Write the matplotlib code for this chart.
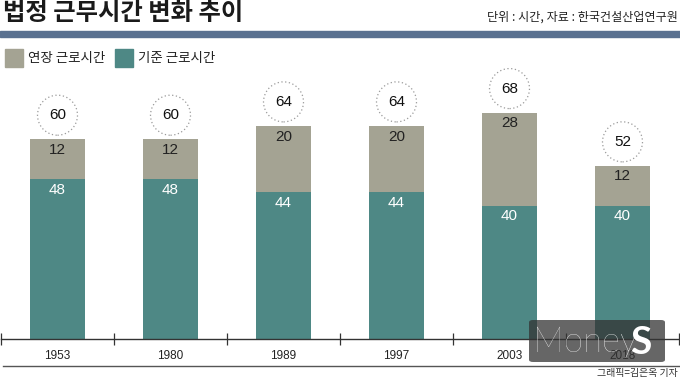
import matplotlib
matplotlib.use("Agg")
import matplotlib.pyplot as plt
from matplotlib.patches import Rectangle, FancyBboxPatch
from matplotlib.lines import Line2D

plt.rcParams['font.family'] = ['Noto Sans CJK KR', 'DejaVu Sans']

years = ["1953", "1980", "1989", "1997", "2003", "2018"]
base_hours = [48, 48, 44, 44, 40, 40]
extended_hours = [12, 12, 20, 20, 28, 12]
totals = [60, 60, 64, 64, 68, 52]

title = "법정 근무시간 변화 추이"
subtitle = "단위 : 시간, 자료 : 한국건설산업연구원"
legend_labels = ["연장 근로시간", "기준 근로시간"]
credit = "그래픽=김은옥 기자"

C_EXT = "#a4a393"
C_BASE = "#4e8885"
C_BAND = "#5a7190"

W, H = 680, 378
fig = plt.figure(figsize=(W / 100, H / 100), dpi=100)

def fx(px):
    return px / W

def fy(py):
    return 1 - py / H

ax = fig.add_axes([fx(1), fy(339), fx(678), (339 - 40) / H])
scale = 3.33
ax.set_ylim(0, 299 / scale)
ax.set_xlim(-0.5, len(years) - 0.5)

xs = list(range(len(years)))
bw = 55 / 113
ax.bar(xs, base_hours, width=bw, color=C_BASE, zorder=2)
ax.bar(xs, extended_hours, bottom=base_hours, width=bw, color=C_EXT, zorder=2)

num_font = ['Liberation Sans', 'DejaVu Sans']
for x, b, e, t in zip(xs, base_hours, extended_hours, totals):
    ax.text(x, b - 3.2, str(b), ha='center', va='center', color='white',
            fontsize=11, family=num_font, zorder=3)
    ax.text(x, b + e - 3.2, str(e), ha='center', va='center', color='#222222',
            fontsize=11, family=num_font, zorder=3)
    cy = t + 7.2
    ax.scatter([x], [cy], s=830, facecolors='none', edgecolors='#9a9a9a',
               linewidths=0.9, linestyles=(0, (1, 2)), zorder=3, clip_on=False)
    ax.text(x, cy, str(t), ha='center', va='center', color='#111111',
            fontsize=11, family=num_font, zorder=4)

for s in ['top', 'right', 'left']:
    ax.spines[s].set_visible(False)
ax.spines['bottom'].set_color('#333333')
ax.spines['bottom'].set_linewidth(1.0)
ax.set_yticks([])
ax.set_xticks(xs)
ax.set_xticklabels(years, fontsize=8.5, family=num_font, color='#222222')
ax.tick_params(axis='x', which='major', length=0, pad=8)
ax.set_xticks([i - 0.5 for i in range(len(years) + 1)], minor=True)
ax.tick_params(axis='x', which='minor', direction='inout', length=9,
               width=0.9, color='#333333')

fig.text(fx(3), fy(13), title, fontsize=17.5, fontweight='bold', color='#1a1a1a',
         ha='left', va='center')
fig.text(fx(678), fy(17), subtitle, fontsize=8.7, color='#222222',
         ha='right', va='center')

fig.patches.append(Rectangle((0, fy(37)), 1, (37 - 31) / H, transform=fig.transFigure,
                             color=C_BAND, zorder=1))

for (x0, lab, col) in [(5, legend_labels[0], C_EXT), (115, legend_labels[1], C_BASE)]:
    fig.patches.append(Rectangle((fx(x0), fy(67)), fx(18), 18 / H,
                                 transform=fig.transFigure, color=col))
    fig.text(fx(x0 + 23), fy(58), lab, fontsize=9.7, color='#222222',
             ha='left', va='center')

fig.add_artist(Line2D([fx(3), fx(679)], [fy(366), fy(366)], transform=fig.transFigure,
                      color='#555555', linewidth=1.0))
fig.text(fx(678), fy(373), credit, fontsize=7.2, color='#333333', ha='right', va='center')

fig.patches.append(FancyBboxPatch((fx(529), fy(362)), fx(136), 42 / H,
                                  boxstyle="round,pad=0,rounding_size=0.006",
                                  transform=fig.transFigure, facecolor='#333333',
                                  edgecolor='none', alpha=0.75, zorder=10))
fig.text(fx(533), fy(342), "Money", fontsize=25, color='white', fontweight='light',
         family=['Lato', 'DejaVu Sans'], ha='left', va='center', zorder=11)
fig.text(fx(630), fy(342), "S", fontsize=28, color='white', fontweight='bold',
         family=['Lato', 'DejaVu Sans'], ha='left', va='center', zorder=11)

fig.savefig("out.png", dpi=100)
